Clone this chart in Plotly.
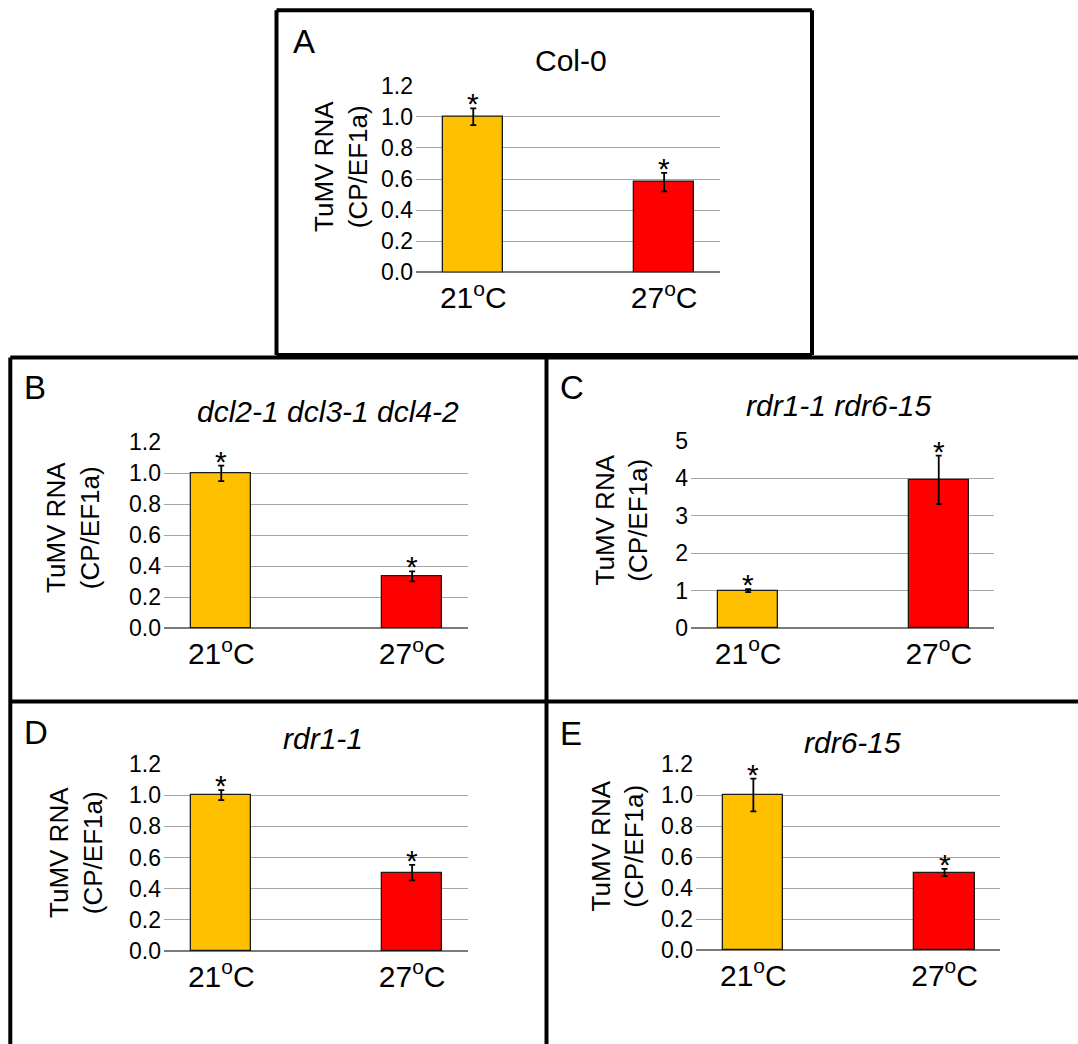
import plotly.graph_objects as go

# ---------------- data ----------------
categories = ["21<sup>o</sup>C", "27<sup>o</sup>C"]
panel_letters = ["A", "B", "C", "D", "E"]
panel_titles = ["Col-0", "<i>dcl2-1 dcl3-1 dcl4-2</i>", "<i>rdr1-1 rdr6-15</i>",
                "<i>rdr1-1</i>", "<i>rdr6-15</i>"]
values_A = [1.00, 0.58]
errors_A = [0.054, 0.060]
values_B = [1.00, 0.335]
errors_B = [0.050, 0.032]
values_C = [1.00, 3.96]
errors_C = [0.040, 0.650]
values_D = [1.00, 0.503]
errors_D = [0.032, 0.050]
values_E = [1.00, 0.500]
errors_E = [0.105, 0.023]
signif_marks = ["*", "*"]
y_max = [1.2, 1.2, 5, 1.2, 1.2]
y_dtick = [0.2, 0.2, 1, 0.2, 0.2]
y_format = [".1f", ".1f", "d", ".1f", ".1f"]
y_title = "TuMV RNA<br>(CP/EF1a)"

values = [values_A, values_B, values_C, values_D, values_E]
errors = [errors_A, errors_B, errors_C, errors_D, errors_E]

# ---------------- geometry (pixels) ----------------
W, H = 1078, 1044
plot_px = [
    (416, 719.5, 85.7, 272.3),
    (164, 467.5, 442.3, 628.3),
    (691, 994, 441, 628),
    (164, 467.5, 764, 951),
    (696, 1000, 764, 950),
]
letter_px = [(304, 41), (35, 387), (572, 387), (36, 732), (571, 733)]
title_px = [(571, 60.5), (328, 411), (838, 406), (323, 738), (852, 742)]
ytitle_px = [(341, 167), (73, 528), (621.5, 520), (76, 853), (617.5, 846)]
frame_px = [
    (276.5, 10.3, 812, 10.3),
    (276.5, 10.3, 276.5, 355),
    (812, 10.3, 812, 355),
    (276.5, 355, 812, 355),
    (10.3, 357.5, 1090, 357.5),
    (10.3, 701.5, 1090, 701.5),
    (10.3, 357.5, 10.3, 1060),
    (546.5, 357.5, 546.5, 1060),
]

FONT = "Liberation Sans, Arial, sans-serif"
colors = ["#FFC000", "#FF0000"]


def px(x):
    return x / W


def py(y):
    return 1 - y / H


fig = go.Figure()
annotations = []
shapes = []
layout = {}
x_idx = [0, 1]

for i in range(5):
    n = "" if i == 0 else str(i + 1)
    xa, ya = "x" + n, "y" + n
    x0, x1, yt, yb = plot_px[i]
    fig.add_trace(go.Bar(
        x=x_idx, y=values[i], xaxis=xa, yaxis=ya,
        width=0.315,
        marker=dict(color=colors, line=dict(color="#1a1a1a", width=1.3)),
        error_y=dict(type="data", array=errors[i], visible=True,
                     color="#000000", thickness=1.8, width=3),
        showlegend=False, hoverinfo="skip",
    ))
    layout["xaxis" + n] = dict(
        domain=[px(x0), px(x1)], anchor=ya, range=[-0.30, 1.29],
        tickvals=x_idx, ticktext=categories, showgrid=False, zeroline=False,
        showline=False, ticks="", tickfont=dict(family=FONT, size=30, color="#000"),
        ticklabelstandoff=5, fixedrange=True, automargin=False,
    )
    layout["yaxis" + n] = dict(
        domain=[py(yb), py(yt)], anchor=xa, range=[0, y_max[i]],
        dtick=y_dtick[i], tick0=0, tickformat=y_format[i],
        showgrid=True, gridcolor="#A6A6A6", gridwidth=1.3,
        zeroline=True, zerolinecolor="#7a7a7a", zerolinewidth=1.8,
        showline=False, ticks="", tickfont=dict(family=FONT, size=23, color="#000"),
        ticklabelstandoff=2, fixedrange=True, automargin=False,
    )
    for k in range(2):
        annotations.append(dict(
            xref=xa, yref=ya, x=x_idx[k], y=values[i][k] + errors[i][k],
            text=signif_marks[k], showarrow=False, yanchor="bottom",
            yshift=-14, font=dict(family=FONT, size=30, color="#000"),
        ))
    lx, ly = letter_px[i]
    annotations.append(dict(
        xref="paper", yref="paper", x=px(lx), y=py(ly), text=panel_letters[i],
        showarrow=False, xanchor="center", yanchor="middle",
        font=dict(family=FONT, size=33, color="#000"),
    ))
    tx, ty = title_px[i]
    annotations.append(dict(
        xref="paper", yref="paper", x=px(tx), y=py(ty), text=panel_titles[i],
        showarrow=False, xanchor="center", yanchor="middle",
        font=dict(family=FONT, size=30, color="#000"),
    ))
    yx, yy = ytitle_px[i]
    annotations.append(dict(
        xref="paper", yref="paper", x=px(yx), y=py(yy), text=y_title,
        showarrow=False, xanchor="center", yanchor="middle", textangle=-90,
        font=dict(family=FONT, size=26, color="#000"),
    ))

for (fx0, fy0, fx1, fy1) in frame_px:
    shapes.append(dict(
        type="line", xref="paper", yref="paper",
        x0=px(fx0), x1=px(fx1), y0=py(fy0), y1=py(fy1),
        line=dict(color="#000", width=4), layer="above",
    ))

fig.update_layout(
    width=W, height=H, margin=dict(l=0, r=0, t=0, b=0, pad=0, autoexpand=False),
    paper_bgcolor="white", plot_bgcolor="white",
    annotations=annotations, shapes=shapes, bargap=0,
    **layout,
)
fig.write_html(
    "out.html",
    config={"displayModeBar": False},
    post_script="document.body.style.margin='0';document.body.style.overflow='hidden';",
)
